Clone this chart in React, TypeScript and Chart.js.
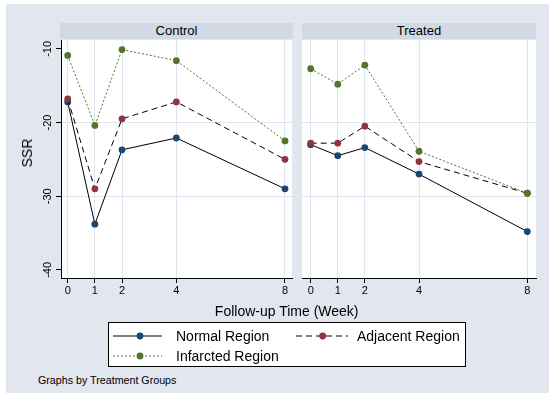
import React, { useEffect, useRef } from "react";
import { Chart, registerables } from "chart.js";

Chart.register(...registerables);

// ---------- data ----------
const weeks = [0, 1, 2, 4, 8];
const yTickValues = [-10, -20, -30, -40];
const yGridValues = [-20, -30];
const panelTitles = ["Control", "Treated"];
const seriesNames = ["Normal Region", "Adjacent Region", "Infarcted Region"];

const controlNormal = [-17.2, -33.8, -23.7, -22.1, -29.0];
const controlAdjacent = [-16.8, -29.0, -19.5, -17.2, -25.0];
const controlInfarcted = [-10.9, -20.4, -10.1, -11.6, -22.5];

const treatedNormal = [-23.0, -24.5, -23.4, -27.0, -34.8];
const treatedAdjacent = [-22.8, -22.8, -20.5, -25.3, -29.6];
const treatedInfarcted = [-12.7, -14.8, -12.2, -23.9, -29.6];

const xAxisTitle = "Follow-up Time (Week)";
const yAxisTitle = "SSR";
const noteText = "Graphs by Treatment Groups";

// ---------- styles ----------
const FONT = '"Liberation Sans", Arial, Helvetica, sans-serif';
const BG = "#E1E6EF";
const HEADER = "#D3D9E4";
const GRID = "#DFE4EE";
const markerColors = ["#1a476f", "#90353b", "#55752f"];
const lineColors = ["#000000", "#000000", "#55752f"];
const lineDashes: number[][] = [[], [6, 4], [2, 2]];

const plotBg = {
  id: "plotBg",
  beforeDraw(chart: any) {
    const { ctx, chartArea: a } = chart;
    ctx.save();
    ctx.fillStyle = "#ffffff";
    ctx.fillRect(a.left, a.top, a.right - a.left, a.bottom - a.top);
    ctx.restore();
  },
};

function makeConfig(panel: number): any {
  const series =
    panel === 0
      ? [controlNormal, controlAdjacent, controlInfarcted]
      : [treatedNormal, treatedAdjacent, treatedInfarcted];
  const isLeft = panel === 0;
  return {
    type: "line",
    data: {
      datasets: series.map((vals, i) => ({
        label: seriesNames[i],
        data: weeks.map((w, j) => ({ x: w, y: vals[j] })),
        borderColor: lineColors[i],
        borderWidth: 1,
        borderDash: lineDashes[i],
        pointRadius: 3.4,
        pointHoverRadius: 3.4,
        pointBackgroundColor: markerColors[i],
        pointBorderColor: markerColors[i],
        pointBorderWidth: 0,
        tension: 0,
        fill: false,
        order: 3 - i,
      })),
    },
    options: {
      responsive: false,
      animation: false,
      events: [],
      layout: {
        autoPadding: false,
        padding: isLeft
          ? { left: 0, right: 8, top: 20, bottom: 10 }
          : { left: 7, right: 9, top: 20, bottom: 10 },
      },
      plugins: {
        legend: { display: false },
        tooltip: { enabled: false },
        title: { display: false },
      },
      scales: {
        x: {
          type: "linear",
          min: isLeft ? -0.247 : -0.321,
          max: isLeft ? 8.258 : 8.321,
          afterBuildTicks: (s: any) => {
            s.ticks = weeks.map((v) => ({ value: v }));
          },
          afterFit: (s: any) => {
            s.height = 22;
          },
          ticks: {
            autoSkip: false,
            maxRotation: 0,
            minRotation: 0,
            padding: 1.5,
            color: "#000",
            font: { family: FONT, size: 11 },
            callback: (v: any) => String(v),
          },
          grid: {
            color: GRID,
            lineWidth: 1,
            drawTicks: true,
            tickLength: 5,
            tickColor: "#000",
            tickWidth: 1,
          },
          border: { display: true, color: "#000", width: 1 },
        },
        y: {
          type: "linear",
          min: -41.1,
          max: -8.8,
          afterBuildTicks: (s: any) => {
            s.ticks = yTickValues.map((v) => ({ value: v }));
          },
          afterFit: (s: any) => {
            s.width = isLeft ? 61 : 0;
          },
          ticks: {
            display: isLeft,
            autoSkip: false,
            minRotation: 90,
            maxRotation: 90,
            crossAlign: "center",
            padding: 0.5,
            color: "#000",
            font: { family: FONT, size: 11 },
            callback: (v: any) => String(v),
          },
          grid: {
            color: (ctx: any) =>
              ctx.tick && yGridValues.includes(ctx.tick.value) ? GRID : "rgba(0,0,0,0)",
            lineWidth: 1,
            drawTicks: isLeft,
            tickLength: 5,
            tickColor: "#000",
            tickWidth: 1,
          },
          border: { display: isLeft, color: "#000", width: 1 },
        },
      },
    },
    plugins: [plotBg],
  };
}

function Panel({ panel, left }: { panel: number; left: number }) {
  const ref = useRef<HTMLCanvasElement | null>(null);
  const width = panel === 0 ? 300 : 250;
  const height = 290;
  useEffect(() => {
    if (!ref.current) return;
    const chart = new Chart(ref.current, makeConfig(panel));
    return () => chart.destroy();
  }, [panel]);
  return (
    <canvas
      ref={ref}
      width={width}
      height={height}
      style={{ position: "absolute", left, top: 20, width, height, display: "block" }}
    />
  );
}

const abs = (s: React.CSSProperties): React.CSSProperties => ({ position: "absolute", ...s });

export default function App() {
  const headerStyle = (left: number, width: number): React.CSSProperties =>
    abs({
      left,
      top: 23,
      width,
      height: 16,
      lineHeight: "16px",
      background: HEADER,
      textAlign: "center",
      fontFamily: FONT,
      fontSize: 13,
      color: "#000",
    });
  const legendText = (left: number, top: number): React.CSSProperties =>
    abs({
      left,
      top,
      transform: "translateY(-50%)",
      fontFamily: FONT,
      fontSize: 14,
      color: "#000",
      whiteSpace: "nowrap",
      lineHeight: "16px",
    });
  return (
    <div
      style={{
        position: "fixed",
        left: 0,
        top: 0,
        width: 549,
        height: 395,
        background: "#ffffff",
        overflow: "hidden",
      }}
    >
      <div style={abs({ left: 6, top: 4, width: 543, height: 389, background: BG })} />
      <div style={headerStyle(60, 233)}>{panelTitles[0]}</div>
      <div style={headerStyle(302, 234)}>{panelTitles[1]}</div>
      <Panel panel={0} left={0} />
      <Panel panel={1} left={295} />
      <div
        style={abs({
          left: 26.7,
          top: 152.7,
          transform: "translate(-50%, -50%) rotate(-90deg)",
          fontFamily: FONT,
          fontSize: 14,
          color: "#000",
          whiteSpace: "nowrap",
          lineHeight: "16px",
        })}
      >
        {yAxisTitle}
      </div>
      <div
        style={abs({
          left: 286.7,
          top: 310.7,
          transform: "translate(-50%, -50%)",
          fontFamily: FONT,
          fontSize: 14,
          color: "#000",
          whiteSpace: "nowrap",
          lineHeight: "16px",
        })}
      >
        {xAxisTitle}
      </div>
      <div
        style={abs({
          left: 108,
          top: 322,
          width: 358,
          height: 45,
          boxSizing: "border-box",
          border: "1px solid #000",
          background: "#fff",
        })}
      />
      <svg style={abs({ left: 108, top: 322, width: 358, height: 45 })} width={358} height={45}>
        <line x1={5} y1={14} x2={54} y2={14} stroke={lineColors[0]} strokeWidth={1} />
        <circle cx={32} cy={14} r={3.4} fill={markerColors[0]} />
        <line x1={188} y1={14} x2={240} y2={14} stroke={lineColors[1]} strokeWidth={1} strokeDasharray="6 4" />
        <circle cx={214.7} cy={14} r={3.4} fill={markerColors[1]} />
        <line x1={5} y1={34} x2={54} y2={34} stroke={lineColors[2]} strokeWidth={1} strokeDasharray="2 2" />
        <circle cx={32} cy={34} r={3.4} fill={markerColors[2]} />
      </svg>
      <div style={legendText(176, 336)}>{seriesNames[0]}</div>
      <div style={legendText(357, 336)}>{seriesNames[1]}</div>
      <div style={legendText(176, 356)}>{seriesNames[2]}</div>
      <div
        style={abs({
          left: 38,
          top: 380,
          transform: "translateY(-50%)",
          fontFamily: FONT,
          fontSize: 10.7,
          color: "#000",
          whiteSpace: "nowrap",
          lineHeight: "13px",
        })}
      >
        {noteText}
      </div>
    </div>
  );
}
